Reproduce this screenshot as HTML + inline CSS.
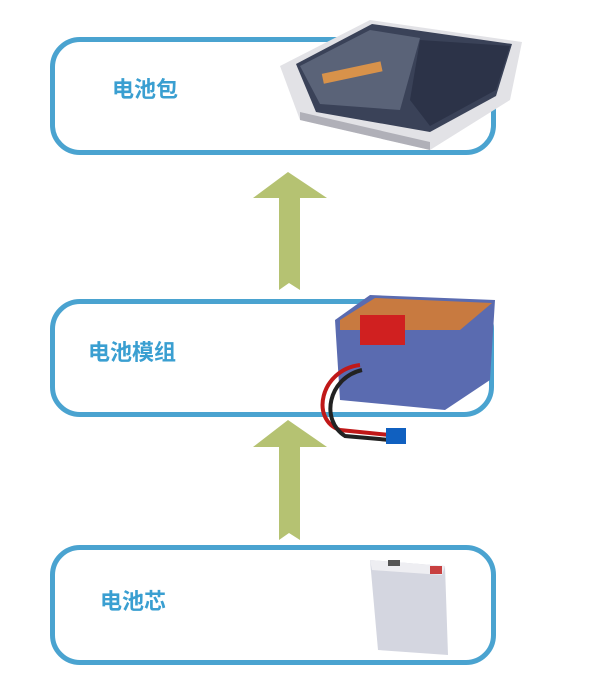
<!DOCTYPE html>
<html><head><meta charset="utf-8"><style>
html,body{margin:0;padding:0;background:#fff;width:604px;height:691px;overflow:hidden;position:relative}
.box{position:absolute;border:5px solid #4aa3d0;border-radius:30px;box-sizing:border-box;background:#fff}
.t{position:absolute;font-family:"Liberation Sans","Noto Sans CJK SC",sans-serif;font-weight:bold;color:#3a9fd1;font-size:22px;line-height:22px}
svg{position:absolute;left:0;top:0}
</style></head><body>
<div class="box" style="left:50px;top:37px;width:446px;height:118px"></div>
<div class="box" style="left:50px;top:299px;width:444px;height:118px"></div>
<div class="box" style="left:50px;top:545px;width:446px;height:120px"></div>
<div class="t" style="left:112px;top:79px">电池包</div>
<div class="t" style="left:88px;top:342px">电池模组</div>
<div class="t" style="left:100px;top:591px">电池芯</div>
<svg width="604" height="691">
<polygon points="288,172 327,198 300,198 300,290 289,283 279,290 279,198 253,198" fill="#b5c272"/>
<polygon points="288,420 327,447 300,447 300,540 289,533 279,540 279,447 253,447" fill="#b5c272"/>
<!-- battery pack -->
<polygon points="280,66 370,20 522,42 510,100 430,150 300,120" fill="#e2e2e6"/>
<polygon points="296,64 372,24 512,44 496,96 430,132 316,112" fill="#3a4258"/>
<polygon points="300,66 370,30 420,38 400,110 320,104" fill="#5a6378"/>
<polygon points="420,40 510,46 496,90 430,126 410,100" fill="#2c3348"/>
<rect x="322" y="68" width="60" height="10" fill="#d8924a" transform="rotate(-12 350 72)"/>
<polygon points="300,120 430,150 430,142 300,112" fill="#b0b0b8"/>
<!-- module -->
<polygon points="335,320 370,295 495,300 490,380 445,410 340,400" fill="#5a6bb0"/>
<polygon points="340,320 375,298 492,303 460,330 340,330" fill="#c87a40"/>
<rect x="360" y="315" width="45" height="30" fill="#d02020"/>
<path d="M360 365 C320 370 310 420 340 430 L390 435" stroke="#c01818" stroke-width="4" fill="none"/>
<path d="M362 370 C328 378 320 420 345 436 L390 440" stroke="#222" stroke-width="4" fill="none"/>
<rect x="386" y="428" width="20" height="16" fill="#1060c0"/>
<!-- cell -->
<polygon points="370,560 445,566 448,655 378,650" fill="#d4d6e0"/>
<polygon points="370,560 445,566 442,575 372,570" fill="#eeeef2"/>
<rect x="388" y="560" width="12" height="6" fill="#555"/>
<rect x="430" y="566" width="12" height="8" fill="#c84040"/>
</svg>
</body></html>
